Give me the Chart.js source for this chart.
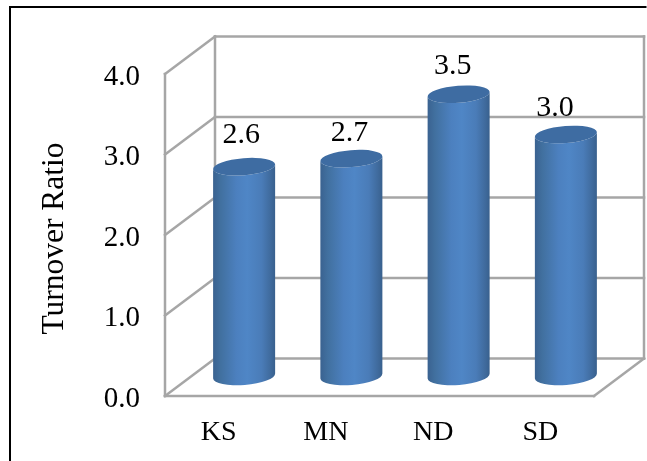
<!DOCTYPE html>
<html>
<head>
<meta charset="utf-8">
<style>
  html, body { margin: 0; padding: 0; background: #fff; }
  #wrap { position: relative; width: 647px; height: 461px; overflow: hidden; }
  canvas { display: block; }
</style>
<script src="https://cdn.jsdelivr.net/npm/chart.js@4/dist/chart.umd.min.js"></script>
</head>
<body>
<div id="wrap"><canvas id="chart" width="647" height="461"></canvas></div>
<script>
// Turnover ratio by state
const categories = ['KS', 'MN', 'ND', 'SD'];
const turnoverRatio = [2.6, 2.7, 3.5, 3.0];
const valueTicks = [0, 1, 2, 3, 4];

// Oblique projection of the chart box: the back wall sits this far from the front plane
const DEPTH_X = 50;
const DEPTH_Y = -37.5;
// The columns stand midway through the box
const COLUMN_DX = 25.5;
const COLUMN_DY = -20;
const WALL_COLOR = '#a6a6a6';
const SERIF = '"Liberation Serif", "Times New Roman", serif';

// Fine placement of each value label relative to its column top
const labelNudgeX = [-3, -2, -6, -11];
const labelNudgeY = [-32, -26, -28, -26];

// Bar element drawn as an upright cylinder seen slightly from above
class CylinderBar extends Chart.BarElement {
  draw(ctx) {
    const { x, y, base, width } = this.getProps(['x', 'y', 'base', 'width']);
    const cx = x + COLUMN_DX;
    const top = y + COLUMN_DY;
    const bottom = base + COLUMN_DY;
    const rx = width / 2;
    const ry = 8.5;
    const tilt = -0.08;

    const side = ctx.createLinearGradient(cx - rx, 0, cx + rx, 0);
    side.addColorStop(0, '#3a6290');
    side.addColorStop(0.12, '#41709f');
    side.addColorStop(0.38, '#4c80bf');
    side.addColorStop(0.55, '#4f86c6');
    side.addColorStop(0.78, '#4a7cb8');
    side.addColorStop(0.93, '#3f6a9c');
    side.addColorStop(1, '#38608d');

    ctx.save();
    ctx.fillStyle = side;
    ctx.beginPath();
    ctx.ellipse(cx, top, rx, ry, tilt, Math.PI, 0, true);
    ctx.ellipse(cx, bottom, rx, ry + 0.5, tilt, 0, Math.PI, false);
    ctx.closePath();
    ctx.fill();

    ctx.fillStyle = '#3e6ca2';
    ctx.beginPath();
    ctx.ellipse(cx, top, rx, ry, tilt, 0, Math.PI * 2);
    ctx.fill();
    ctx.restore();
  }
}
CylinderBar.id = 'cylinderBar';
CylinderBar.defaults = Chart.BarElement.defaults;

class CylinderController extends Chart.BarController {}
CylinderController.id = 'cylinder';
CylinderController.defaults = { dataElementType: 'cylinderBar' };
CylinderController.overrides = Chart.BarController.overrides;

Chart.register(CylinderBar, CylinderController);

// Box walls, floor and gridlines, all placed from the axis scales
const boxWalls = {
  id: 'boxWalls',
  beforeDatasetsDraw(chart) {
    const { ctx, chartArea: area, scales: { y } } = chart;
    const backLeft = area.left + DEPTH_X;
    const backRight = area.right + DEPTH_X;
    ctx.save();
    ctx.strokeStyle = WALL_COLOR;
    ctx.lineWidth = 2.5;
    ctx.lineCap = 'square';
    const seg = (x1, y1, x2, y2) => {
      ctx.beginPath();
      ctx.moveTo(x1, y1);
      ctx.lineTo(x2, y2);
      ctx.stroke();
    };
    valueTicks.forEach(v => {
      const py = y.getPixelForValue(v);
      seg(area.left, py, backLeft, py + DEPTH_Y);
      seg(backLeft, py + DEPTH_Y, backRight, py + DEPTH_Y);
    });
    const y0 = y.getPixelForValue(0);
    const yMax = y.getPixelForValue(4);
    seg(area.left, y0, area.left, yMax);
    seg(backLeft, y0 + DEPTH_Y, backLeft, yMax + DEPTH_Y);
    seg(backRight, y0 + DEPTH_Y, backRight, yMax + DEPTH_Y);
    seg(area.left, y0, area.right, y0);
    seg(area.right, y0, backRight, y0 + DEPTH_Y);
    ctx.restore();
  }
};

// Value labels above each column
const valueLabels = {
  id: 'valueLabels',
  afterDatasetsDraw(chart) {
    const { ctx } = chart;
    const bars = chart.getDatasetMeta(0).data;
    ctx.save();
    ctx.fillStyle = '#000';
    ctx.font = '30px ' + SERIF;
    ctx.textAlign = 'center';
    ctx.textBaseline = 'middle';
    bars.forEach((bar, i) => {
      ctx.fillText(turnoverRatio[i].toFixed(1),
        bar.x + COLUMN_DX + labelNudgeX[i],
        bar.y + COLUMN_DY + labelNudgeY[i]);
    });
    ctx.restore();
  }
};

// Frame around the figure; it runs off the right and bottom edges
const figureFrame = {
  id: 'figureFrame',
  afterDraw(chart) {
    const { ctx, width, height } = chart;
    ctx.save();
    ctx.strokeStyle = '#000';
    ctx.lineWidth = 2;
    ctx.beginPath();
    ctx.moveTo(10, height);
    ctx.lineTo(10, 7);
    ctx.lineTo(width - 0.5, 7);
    ctx.stroke();
    ctx.restore();
  }
};

new Chart(document.getElementById('chart'), {
  type: 'cylinder',
  data: {
    labels: categories,
    datasets: [{
      label: 'Turnover Ratio',
      data: turnoverRatio,
      barPercentage: 0.58,
      categoryPercentage: 1,
      clip: false
    }]
  },
  plugins: [boxWalls, valueLabels, figureFrame],
  options: {
    responsive: false,
    animation: false,
    layout: { padding: { top: 74, right: 53, left: 0, bottom: 0 } },
    plugins: { legend: { display: false }, tooltip: { enabled: false } },
    scales: {
      x: {
        grid: { display: false },
        border: { display: false },
        ticks: { color: '#000', font: { family: SERIF, size: 28 }, padding: 12, maxRotation: 0 },
        afterFit(scale) { scale.height = 65; }
      },
      y: {
        min: 0,
        max: 4,
        grid: { display: false },
        border: { display: false },
        ticks: {
          color: '#000',
          font: { family: SERIF, size: 29 },
          stepSize: 1,
          padding: 17,
          labelOffset: 3,
          callback: v => v.toFixed(1)
        },
        title: {
          display: true,
          text: 'Turnover Ratio',
          color: '#000',
          font: { family: SERIF, size: 31.5 },
          padding: { top: 36, bottom: 0 }
        },
        afterFit(scale) {
          scale.width = 165;
          // The axis title sits slightly below the middle of the axis
          if (!scale.titleShifted) {
            const drawTitle = scale.drawTitle;
            scale.drawTitle = function () {
              this.ctx.save();
              this.ctx.translate(0, 3.5);
              drawTitle.call(this);
              this.ctx.restore();
            };
            scale.titleShifted = true;
          }
        }
      }
    }
  }
});
</script>
</body>
</html>
